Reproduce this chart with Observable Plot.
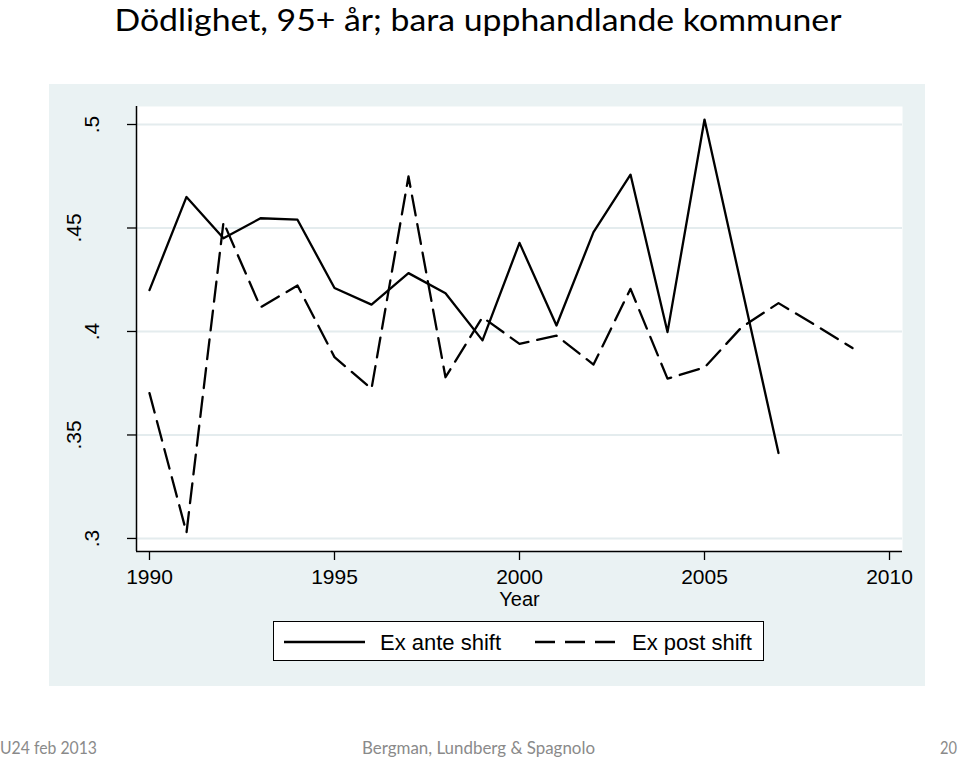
<!DOCTYPE html>
<html>
<head>
<meta charset="utf-8">
<script src="https://cdn.jsdelivr.net/npm/d3@7"></script>
<script src="https://cdn.jsdelivr.net/npm/@observablehq/plot@0.6"></script>
<style>
  html, body { margin: 0; padding: 0; background: #fff; }
  body { width: 960px; height: 759px; position: relative; overflow: hidden; }
  .abs { position: absolute; }
</style>
</head>
<body>
<svg class="abs" style="left:0;top:0" width="960" height="46">
  <text id="title" x="114.5" y="31" textLength="727" lengthAdjust="spacingAndGlyphs"
        font-family="Lato, 'Open Sans', sans-serif" font-size="31" fill="#000">Dödlighet, 95+ år; bara upphandlande kommuner</text>
</svg>
<div id="chart" class="abs" style="left:49px;top:84px"></div>
<div class="abs" style="left:273px;top:621px;width:491px;height:40px;box-sizing:border-box;border:1.5px solid #000;background:#fff">
  <svg width="488" height="37" style="display:block">
    <line x1="10" x2="91" y1="20" y2="20" stroke="#000" stroke-width="2.3"></line>
    <text x="106" y="28" font-family="'Liberation Sans', Arial, sans-serif" font-size="22" fill="#000">Ex ante shift</text>
    <line x1="261" x2="342" y1="20" y2="20" stroke="#000" stroke-width="2.3" stroke-dasharray="20,10"></line>
    <text x="358" y="28" font-family="'Liberation Sans', Arial, sans-serif" font-size="22" fill="#000">Ex post shift</text>
  </svg>
</div>
<svg class="abs" style="left:0;top:730px" width="960" height="29">
  <g font-family="Lato, 'Open Sans', sans-serif" font-size="18" fill="#8a8a8a">
    <text x="0" y="24" textLength="97" lengthAdjust="spacingAndGlyphs">U24 feb 2013</text>
    <text x="362" y="24" textLength="233" lengthAdjust="spacingAndGlyphs">Bergman, Lundberg &amp; Spagnolo</text>
    <text x="940" y="24" textLength="17" lengthAdjust="spacingAndGlyphs">20</text>
  </g>
</svg>
<script>
const years = [1990,1991,1992,1993,1994,1995,1996,1997,1998,1999,2000,2001,2002,2003,2004,2005,2006,2007,2008,2009];
const exAnte = [0.420,0.465,0.445,0.4547,0.454,0.421,0.413,0.4282,0.4185,0.3957,0.4428,0.4029,0.448,0.4758,0.3997,0.5024,null,0.3413,null,null];
const exPost = [0.3702,0.3028,0.4528,0.4117,0.4222,0.3876,0.3723,0.4749,0.3779,0.4069,0.394,0.398,0.384,0.4206,0.3772,0.3826,0.402,0.4137,0.403,0.392];
const yTicks = [0.3,0.35,0.4,0.45,0.5];
const xTicks = [1990,1995,2000,2005,2010];

const xDomain = [1989.649, 2010.351];
const yDomain = [0.2937, 0.5087];

const anteData = years.map((year, i) => ({year, v: exAnte[i]})).filter(d => d.v != null);
const postData = years.map((year, i) => ({year, v: exPost[i]})).filter(d => d.v != null);
const fmtY = d => String(d).replace(/^0/, "");
const font = "'Liberation Sans', Arial, sans-serif";

const chart = Plot.plot({
  width: 876,
  height: 602,
  marginLeft: 87,
  marginRight: 23,
  marginTop: 22,
  marginBottom: 135,
  style: {background: "#eaf2f3", fontFamily: font, fontSize: "21px", color: "#000", overflow: "visible"},
  x: {domain: xDomain},
  y: {domain: yDomain},
  marks: [
    Plot.frame({fill: "white", stroke: "none"}),
    Plot.gridY(yTicks, {stroke: "#e4ecee", strokeOpacity: 1, strokeWidth: 2}),
    Plot.axisY(yTicks, {tickSize: 9, tickFormat: () => "", label: null, strokeWidth: 1.3}),
    Plot.text(yTicks.filter(d => fmtY(d).length === 2), {y: d => d, text: fmtY, frameAnchor: "left", dx: -44.5, rotate: -90, textAnchor: "middle", lineAnchor: "middle", fontSize: 21, fill: "#000"}),
    Plot.text(yTicks.filter(d => fmtY(d).length === 3), {y: d => d, text: fmtY, frameAnchor: "left", dx: -62.5, rotate: -90, textAnchor: "middle", lineAnchor: "middle", fontSize: 21, fill: "#000"}),
    Plot.axisX(xTicks, {tickSize: 9, tickPadding: 9, tickFormat: d => String(d), label: null, fontSize: 21, strokeWidth: 1.3}),
    Plot.text(["Year"], {text: d => d, frameAnchor: "bottom", dy: 48, lineAnchor: "middle", fontSize: 20, fill: "#000"}),
    Plot.ruleX([xDomain[0]], {stroke: "#000", strokeWidth: 1.5}),
    Plot.ruleY([yDomain[0]], {stroke: "#000", strokeWidth: 1.5}),
    Plot.line(anteData, {x: "year", y: "v", stroke: "#000", strokeWidth: 2.3}),
    Plot.line(postData, {x: "year", y: "v", stroke: "#000", strokeWidth: 2.3, strokeDasharray: "20,9"})
  ]
});
document.getElementById("chart").appendChild(chart);
</script>
</body>
</html>
